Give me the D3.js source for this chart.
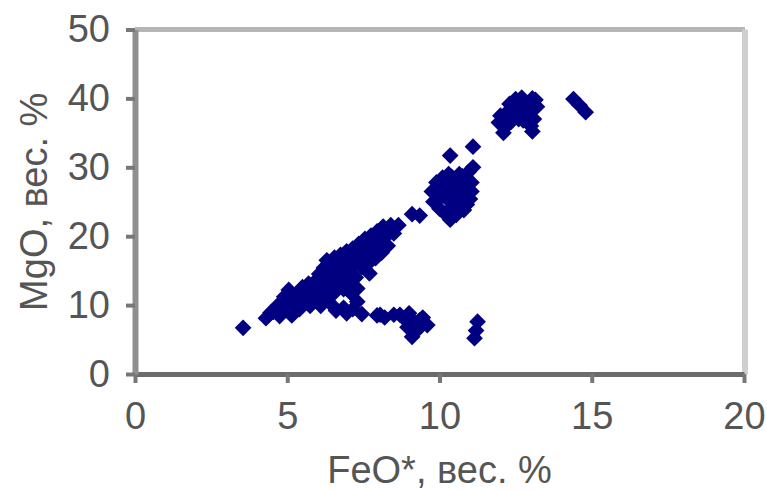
<!DOCTYPE html>
<html>
<head>
<meta charset="utf-8">
<script src="https://cdn.jsdelivr.net/npm/d3@7"></script>
<style>
  html, body { margin: 0; padding: 0; background: #fff; }
  svg { display: block; }
  text { font-family: "Liberation Sans", Arial, sans-serif; }
</style>
</head>
<body>
<svg id="chart" width="767" height="491"></svg>
<script>
// FeO* (wt. %) of each sample
const feo = [
  3.55, 4.3, 4.45, 4.55, 4.7, 4.75, 4.9, 5.0, 5.05, 5.15, 5.2, 5.35, 5.4, 5.5, 5.55,
  5.6, 5.7, 5.75, 5.85, 5.9, 5.95, 6.0, 6.05, 6.1, 6.15, 6.2, 6.25, 6.3, 6.3, 6.4, 6.45, 6.45,
  6.55, 6.6, 6.65, 6.55, 6.75, 6.8, 6.85, 6.9, 6.95, 7.0, 7.05, 7.1, 7.15, 7.2, 7.25, 7.3, 7.35, 7.4, 7.45,
  6.6, 6.85, 6.95, 7.15, 7.3, 7.45,
  5.3, 5.65, 6.05, 6.55, 6.7, 7.0, 7.55, 7.8, 8.0, 8.35,
  7.55, 7.6, 7.65, 7.7, 7.75, 7.85, 7.9, 7.95, 8.05, 8.1, 8.15, 8.25, 8.3, 8.4, 8.5, 8.65,
  9.1, 9.35,
  7.95, 8.05, 8.2, 8.5, 8.7, 9.0, 9.35, 9.6, 9.1, 9.1,
  8.85, 9.2, 9.45, 9.3, 8.95,
  11.25, 11.2, 11.15,
  9.75, 9.8, 9.9, 10.0, 10.05, 10.1, 10.2, 10.25, 10.3, 10.35, 10.4, 10.45, 10.5, 10.55,
  10.6, 10.7, 10.75, 10.8, 10.85, 10.95, 11.0, 11.05, 11.1, 10.9,
  9.95, 10.15, 10.4, 10.6, 10.65, 10.9, 10.3, 10.5, 10.8, 11.05,
  10.35, 11.1,
  11.95, 12.1, 12.2, 12.3, 12.45, 12.6, 12.75, 12.9, 13.05, 13.2, 12.85, 13.1, 12.6, 13.05, 12.35,
  12.0, 12.3, 12.5, 12.7, 12.95, 13.15, 12.75, 12.2, 13.0,
  14.4, 14.6, 14.8
];

// MgO (wt. %) of each sample, same order as feo
const mgo = [
  6.7, 8.1, 8.9, 9.0, 10.0, 8.4, 11.2, 9.6, 12.2, 8.5, 10.8, 11.8, 9.4, 12.6, 10.4,
  11.3, 13.1, 9.9, 12.2, 10.6, 13.6, 11.4, 14.5, 9.9, 12.8, 15.4, 11.0, 16.5, 13.8, 12.2, 15.0, 10.1,
  16.9, 13.4, 15.6, 11.8, 17.3, 14.3, 12.3, 16.2, 17.8, 13.2, 15.2, 11.7, 18.2, 16.6, 14.0, 12.4, 18.9, 17.2, 15.5,
  9.2, 9.6, 8.8, 9.4, 10.5, 8.7,
  10.2, 12.0, 10.6, 14.2, 12.9, 16.5, 17.0, 19.0, 18.0, 20.8,
  19.6, 17.8, 16.0, 14.6, 20.1, 18.4, 16.8, 20.7, 19.2, 17.6, 21.4, 20.0, 18.6, 21.6, 20.4, 21.6,
  23.2, 23.0,
  8.5, 8.6, 8.2, 8.6, 8.6, 8.8, 7.8, 7.1, 6.4, 5.4,
  8.0, 7.4, 8.2, 6.5, 6.8,
  7.6, 6.3, 5.2,
  26.5, 25.0, 27.8, 24.0, 26.2, 28.5, 23.2, 25.4, 27.3, 22.4, 28.6, 24.3, 26.2, 23.1,
  27.8, 25.2, 28.7, 23.8, 26.7, 29.3, 25.4, 27.8, 30.0, 24.6,
  25.3, 27.0, 25.5, 24.6, 29.0, 28.2, 29.0, 27.5, 27.0, 26.5,
  31.7, 33.0,
  36.5, 35.0, 37.9, 39.2, 38.0, 39.5, 38.3, 39.3, 40.0, 38.8, 36.9, 37.0, 37.0, 35.2, 36.6,
  37.5, 37.9, 39.9, 40.1, 38.0, 39.8, 36.8, 36.0, 36.0,
  39.9, 39.0, 38.0
];

const xTicks = [0, 5, 10, 15, 20];
const yTicks = [0, 10, 20, 30, 40, 50];
const xTitle = "FeO*, вес. %";
const yTitle = "MgO, вес. %";

const W = 767, H = 491;
const margin = { left: 135, right: 23, top: 29.5, bottom: 117 };

const svg = d3.select("#chart");

const x = d3.scaleLinear().domain([0, 20]).range([margin.left, W - margin.right]);
const y = d3.scaleLinear().domain([0, 50]).range([H - margin.bottom, margin.top]);

// plot-area frame (top and right edges)
svg.append("line")
  .attr("x1", x(0)).attr("x2", x(20) + 1)
  .attr("y1", y(50)).attr("y2", y(50))
  .attr("stroke", "#b5b5b5").attr("stroke-width", 5);
svg.append("line")
  .attr("x1", x(20) + 1).attr("x2", x(20) + 1)
  .attr("y1", y(50)).attr("y2", y(0))
  .attr("stroke", "#cfcfcf").attr("stroke-width", 6);

// axes
const xAxis = d3.axisBottom(x).tickValues(xTicks).tickSize(9).tickSizeOuter(0).tickPadding(19);
const yAxis = d3.axisLeft(y).tickValues(yTicks).tickSize(9).tickSizeOuter(0).tickPadding(16);

const gx = svg.append("g").attr("transform", `translate(0,${y(0)})`).call(xAxis);
const gy = svg.append("g").attr("transform", `translate(${x(0)},0)`).call(yAxis);

gy.select(".domain").attr("stroke", "#8f8f8f").attr("stroke-width", 6);
gx.select(".domain").attr("stroke", "#6b6b6b").attr("stroke-width", 5);
[gx, gy].forEach(g => {
  g.selectAll(".tick line").attr("stroke", "#777").attr("stroke-width", 4);
  g.selectAll(".tick text")
    .attr("fill", "#555")
    .style("font-size", "38px");
});

// axis titles
svg.append("text")
  .attr("x", (x(0) + x(20)) / 2)
  .attr("y", 483)
  .attr("text-anchor", "middle")
  .attr("fill", "#555")
  .style("font-size", "38px")
  .text(xTitle);

svg.append("text")
  .attr("transform", `translate(47,${(y(0) + y(50)) / 2}) rotate(-90)`)
  .attr("text-anchor", "middle")
  .attr("fill", "#555")
  .style("font-size", "38px")
  .text(yTitle);

// samples as navy diamonds
const pts = feo.map((v, i) => ({ fe: v, mg: mgo[i] }));
const diamond = d3.symbol().type(d3.symbolSquare).size(140);

svg.append("g")
  .selectAll("path")
  .data(pts)
  .join("path")
  .attr("d", diamond)
  .attr("transform", d => `translate(${x(d.fe)},${y(d.mg)}) rotate(45)`)
  .attr("fill", "#000080");
</script>
</body>
</html>
